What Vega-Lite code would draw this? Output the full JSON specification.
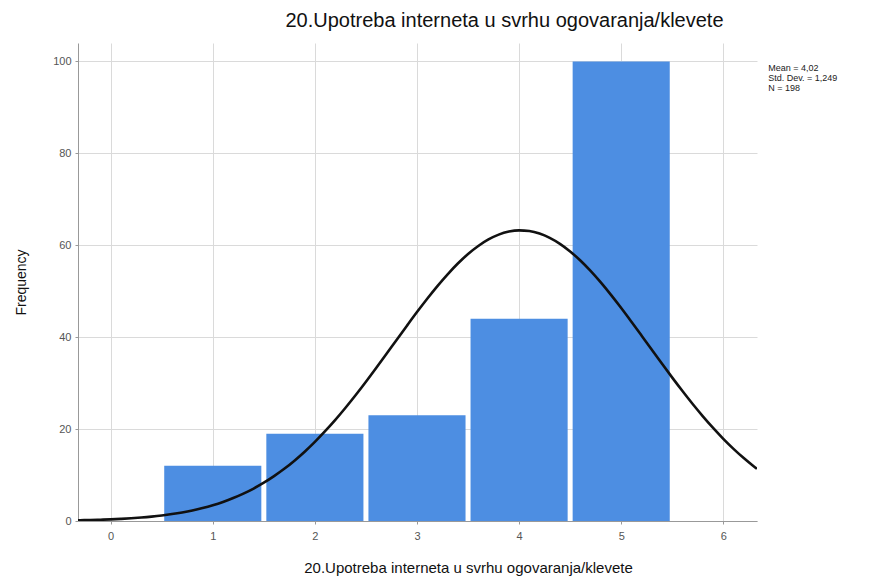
{
  "$schema": "https://vega.github.io/schema/vega-lite/v6.json",
  "width": 679,
  "height": 478,
  "autosize": {"type": "none"},
  "padding": {"left": 78, "top": 43, "right": 113, "bottom": 61},
  "background": "white",
  "config": {"view": {"stroke": null}, "font": "Liberation Sans"},
  "title": {"text": "20.Upotreba interneta u svrhu ogovaranja/klevete", "fontSize": 20, "fontWeight": "normal", "color": "#111111", "anchor": "middle", "dx": 87, "offset": 12, "font": "Liberation Sans"},
  "datasets": {
    "bars": [
      {"lo": 0.5, "hi": 1.5, "count": 12},
      {"lo": 1.5, "hi": 2.5, "count": 19},
      {"lo": 2.5, "hi": 3.5, "count": 23},
      {"lo": 3.5, "hi": 4.5, "count": 44},
      {"lo": 4.5, "hi": 5.5, "count": 100}
    ],
    "curve": [
      {"x": -0.32, "y": 0.153}, {"x": -0.3, "y": 0.162}, {"x": -0.2, "y": 0.213}, {"x": -0.1, "y": 0.278},
      {"x": 0.0, "y": 0.361}, {"x": 0.1, "y": 0.465}, {"x": 0.2, "y": 0.596}, {"x": 0.3, "y": 0.759},
      {"x": 0.4, "y": 0.96}, {"x": 0.5, "y": 1.205}, {"x": 0.6, "y": 1.506}, {"x": 0.7, "y": 1.868},
      {"x": 0.8, "y": 2.303}, {"x": 0.9, "y": 2.822}, {"x": 1.0, "y": 3.434}, {"x": 1.1, "y": 4.153},
      {"x": 1.2, "y": 4.988}, {"x": 1.3, "y": 5.955}, {"x": 1.4, "y": 7.064}, {"x": 1.5, "y": 8.329},
      {"x": 1.6, "y": 9.758}, {"x": 1.7, "y": 11.35}, {"x": 1.8, "y": 13.13}, {"x": 1.9, "y": 15.08},
      {"x": 2.0, "y": 17.21}, {"x": 2.1, "y": 19.53}, {"x": 2.2, "y": 22.0}, {"x": 2.3, "y": 24.64},
      {"x": 2.4, "y": 27.41}, {"x": 2.5, "y": 30.3}, {"x": 2.6, "y": 33.29}, {"x": 2.7, "y": 36.33},
      {"x": 2.8, "y": 39.4}, {"x": 2.9, "y": 42.45}, {"x": 3.0, "y": 45.46}, {"x": 3.1, "y": 48.36},
      {"x": 3.2, "y": 51.12}, {"x": 3.3, "y": 53.68}, {"x": 3.4, "y": 56.02}, {"x": 3.5, "y": 58.09},
      {"x": 3.6, "y": 59.84}, {"x": 3.7, "y": 61.26}, {"x": 3.8, "y": 62.31}, {"x": 3.9, "y": 62.97},
      {"x": 4.0, "y": 63.24}, {"x": 4.1, "y": 63.09}, {"x": 4.2, "y": 62.55}, {"x": 4.3, "y": 61.61},
      {"x": 4.4, "y": 60.31}, {"x": 4.5, "y": 58.65}, {"x": 4.6, "y": 56.67}, {"x": 4.7, "y": 54.41},
      {"x": 4.8, "y": 51.91}, {"x": 4.9, "y": 49.2}, {"x": 5.0, "y": 46.34}, {"x": 5.1, "y": 43.36},
      {"x": 5.2, "y": 40.32}, {"x": 5.3, "y": 37.25}, {"x": 5.4, "y": 34.2}, {"x": 5.5, "y": 31.19},
      {"x": 5.6, "y": 28.27}, {"x": 5.7, "y": 25.45}, {"x": 5.8, "y": 22.78}, {"x": 5.9, "y": 20.25},
      {"x": 6.0, "y": 17.88}, {"x": 6.1, "y": 15.7}, {"x": 6.2, "y": 13.69}, {"x": 6.3, "y": 11.86},
      {"x": 6.33, "y": 11.35}
    ]
  },
  "layer": [
    {
      "data": {"name": "bars"},
      "mark": {"type": "bar", "color": "#4d8ee2", "xOffset": 2.5, "x2Offset": -2.5},
      "encoding": {
        "x": {
          "field": "lo", "type": "quantitative",
          "scale": {"domain": [-0.32, 6.33], "nice": false, "zero": false},
          "axis": {
            "values": [0, 1, 2, 3, 4, 5, 6], "format": "d",
            "title": "20.Upotreba interneta u svrhu ogovaranja/klevete",
            "titleFontSize": 15, "titleFontWeight": "normal", "titleColor": "#111111",
            "titleX": 390, "titleY": 46, "titleBaseline": "middle",
            "labelFontSize": 11, "labelColor": "#555555", "labelPadding": 6,
            "tickSize": 3, "tickColor": "#999999", "domainColor": "#999999",
            "grid": true, "gridColor": "#dadada", "gridWidth": 1
          }
        },
        "x2": {"field": "hi"},
        "y": {
          "field": "count", "type": "quantitative",
          "scale": {"domain": [0, 104], "nice": false},
          "axis": {
            "values": [0, 20, 40, 60, 80, 100],
            "title": "Frequency", "titleFontSize": 14, "titleFontWeight": "normal", "titleColor": "#111111",
            "titlePadding": 24,
            "labelFontSize": 11, "labelColor": "#555555", "labelPadding": 4,
            "tickSize": 3, "tickColor": "#999999", "domainColor": "#999999",
            "grid": true, "gridColor": "#dadada", "gridWidth": 1
          }
        },
        "y2": {"datum": 0}
      }
    },
    {
      "data": {"name": "curve"},
      "mark": {"type": "line", "color": "#111111", "strokeWidth": 2.6, "clip": true, "interpolate": "monotone"},
      "encoding": {
        "x": {"field": "x", "type": "quantitative"},
        "y": {"field": "y", "type": "quantitative"}
      }
    },
    {
      "data": {"values": [{"lines": ["Mean = 4,02", "Std. Dev. = 1,249", "N = 198"]}]},
      "mark": {"type": "text", "align": "left", "baseline": "top", "fontSize": 9, "lineHeight": 10, "color": "#222222", "clip": false},
      "encoding": {
        "x": {"datum": 6.44, "type": "quantitative"},
        "y": {"datum": 99.5, "type": "quantitative"},
        "text": {"field": "lines"}
      }
    }
  ]
}
